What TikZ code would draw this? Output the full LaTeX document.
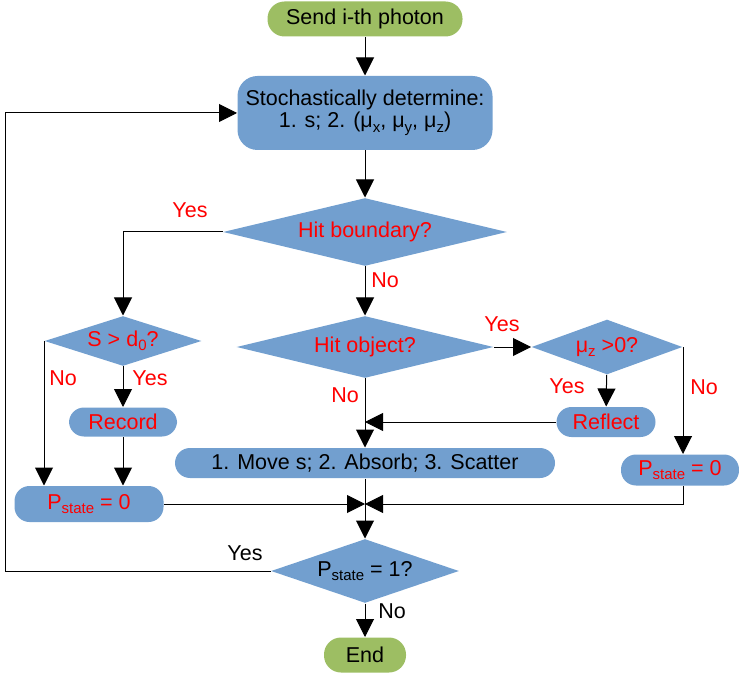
\documentclass[tikz,border=0pt]{standalone}
\usepackage{fontspec}
\setmainfont{Liberation Sans}
\usetikzlibrary{shapes.geometric,arrows.meta}
\definecolor{boxblue}{RGB}{114,159,207}
\definecolor{boxgreen}{RGB}{157,190,99}
\newcommand{\lowsub}[1]{\raisebox{-4.5pt}{\fontsize{15}{15}\selectfont #1}}

\begin{document}
\begin{tikzpicture}[x=1pt,y=-1pt,
		font=\fontsize{21.5}{24}\selectfont,
		line width=1pt,
		arr/.style={-{Triangle[length=18pt,width=18pt]}},
		term/.style={rectangle,rounded corners=17pt,fill=boxgreen,inner sep=0pt},
		proc/.style={rectangle,rounded corners=15pt,fill=boxblue,inner sep=0pt},
		decide/.style={diamond,shape aspect=4,fill=boxblue,inner sep=0pt,text=red},
		lbl/.style={text=red,inner sep=0pt}]
		\useasboundingbox (0,0) rectangle (739,676);
		%
		\node[term,minimum width=195,minimum height=35] (send) at (365,19) {Send i-th photon};
		\node[proc,rounded corners=20pt,minimum width=255,minimum height=74,align=center] (stoch) at (365,113)
			{Stochastically determine:\\[-2pt]1. s; 2. (μ\lowsub{x}, μ\lowsub{y}, μ\lowsub{z})};
		\node[decide,minimum width=284,minimum height=68] (hitb) at (365,232) {Hit boundary?};
		\node[decide,minimum width=157,minimum height=50] (sd) at (123,341) {S > d\lowsub{0}?};
		\node[decide,minimum width=257,minimum height=62] (hito) at (365,347) {Hit object?};
		\node[decide,minimum width=151,minimum height=55] (mu) at (607,347) {μ\lowsub{z} >0?};
		\node[proc,text=red,minimum width=108,minimum height=29] (rec) at (123,422) {Record};
		\node[proc,text=red,minimum width=99,minimum height=30] (refl) at (606,422) {Reflect};
		\node[proc,minimum width=380,minimum height=30] (move) at (365,463) {1. Move s; 2. Absorb; 3. Scatter};
		\node[proc,text=red,minimum width=149,minimum height=36] (pl) at (89,504) {P\lowsub{state} = 0};
		\node[proc,text=red,minimum width=118,minimum height=31] (pr) at (680,470) {P\lowsub{state} = 0};
		\node[decide,text=black,minimum width=188,minimum height=64] (ps1) at (365,571) {P\lowsub{state} = 1?};
		\node[term,minimum width=82,minimum height=35] (endn) at (365,655) {End};
		\coordinate (j) at (365,504);
		\coordinate (lft) at (5,571);
		%
		\node[lbl] (yes1) at (190,210) {Yes};
		\node[lbl] (no1) at (385,280) {No};
		\node[lbl] (no2) at (63,378) {No};
		\node[lbl] (yes2) at (150,378) {Yes};
		\node[lbl] (yes3) at (502,324) {Yes};
		\node[lbl] (no3) at (345,395) {No};
		\node[lbl] (yes4) at (567,386) {Yes};
		\node[lbl] (no4) at (704,387) {No};
		\node[inner sep=0pt] (yes5) at (245,553) {Yes};
		\node[inner sep=0pt] (no5) at (392,611) {No};
		%
		\draw[arr] (send) -- (stoch);
		\draw[arr] (stoch) -- (hitb);
		\draw[arr] (hitb.west) -| (sd.north);
		\draw[arr] (hitb) -- (hito);
		\draw[arr] (sd.west) -- (sd.west |- pl.north);
		\draw[arr] (sd) -- (rec);
		\draw[arr] (rec) -- (rec |- pl.north);
		\draw[arr] (hito.east) -- (mu.west);
		\draw[arr] (mu) -- (refl);
		\draw[arr] (refl.west) -- (refl.west -| hito.south);
		\draw[arr] (hito) -- (move);
		\draw[arr] (mu.east) -- (mu.east |- pr.north);
		\draw[arr] (pl.east) -- (j);
		\draw[arr] (mu.east |- pr.south) |- (j);
		\draw[arr] (move) -- (ps1);
		\draw[arr] (ps1.west) -- (lft) |- (stoch.west);
		\draw[arr] (ps1) -- (endn);
	\end{tikzpicture}
\end{document}
